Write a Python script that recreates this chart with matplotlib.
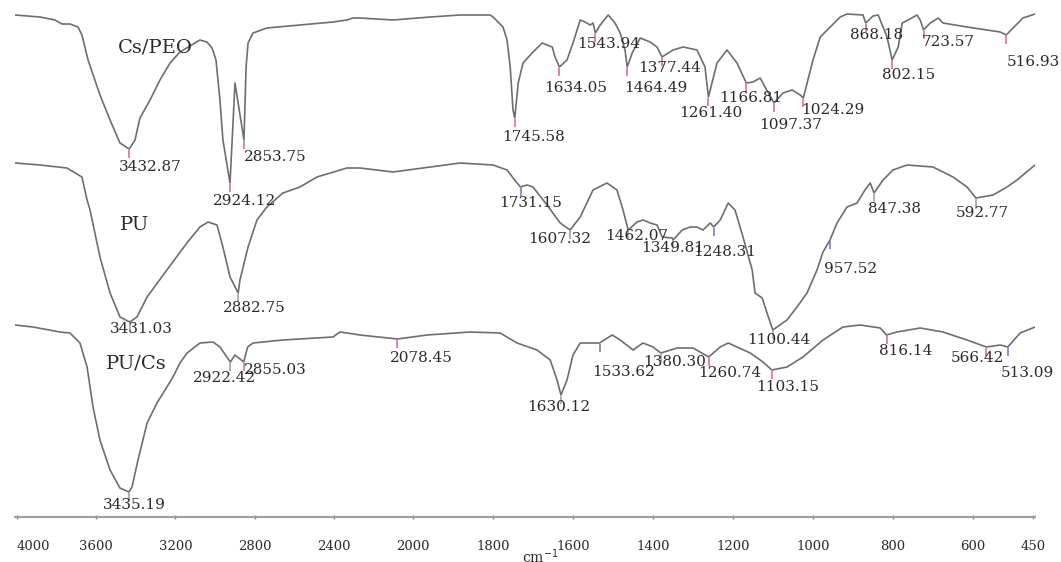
import numpy as np
import matplotlib.pyplot as plt

# wavenumber (cm-1) and offset transmittance (a.u.)
cspeo_wn = [4010, 3884, 3808, 3773, 3732, 3692, 3672, 3641, 3581, 3530,
            3480, 3432.87, 3404, 3379, 3328, 3278, 3227, 3177, 3076, 3041,
            3015, 2995, 2975, 2960, 2924.12, 2899, 2853.75, 2843, 2833, 2808,
            2738, 2571, 2404, 2334, 2303, 2268, 2101, 1957, 1882, 1807,
            1800, 1775, 1765, 1757, 1750, 1745.58, 1737, 1725, 1700, 1677,
            1652, 1645, 1634.05, 1615, 1600, 1582, 1570, 1557, 1550, 1543.94,
            1532, 1512, 1495, 1482, 1470, 1464.49, 1452, 1432, 1407, 1390,
            1377.44, 1350, 1325, 1290, 1270, 1261.40, 1240, 1215, 1190, 1166.81,
            1150, 1132, 1120, 1097.37, 1075, 1052, 1032, 1024.29, 1000, 982,
            957, 932, 915, 875, 868.18, 850, 837, 815, 802.15, 787,
            777, 762, 740, 732, 723.57, 707, 687, 675, 615, 532,
            516.93, 500, 475, 445]
cspeo_t = [502, 500, 497, 493, 493, 490, 482, 457, 422, 397,
           374, 368, 377, 399, 417, 437, 454, 465, 477, 475,
           469, 457, 417, 377, 334, 434, 377, 450, 474, 484,
           489, 492, 495, 497, 499, 499, 497, 500, 502, 502,
           500, 490, 477, 450, 407, 399, 434, 454, 465, 474,
           470, 460, 450, 457, 474, 497, 495, 492, 494, 484,
           492, 502, 494, 484, 467, 450, 464, 479, 475, 470,
           460, 467, 470, 467, 450, 420, 454, 467, 454, 434,
           435, 439, 430, 414, 424, 427, 422, 419, 457, 480,
           490, 500, 503, 502, 494, 501, 502, 480, 457, 470,
           494, 497, 502, 497, 487, 494, 499, 494, 490, 485,
           482, 489, 499, 503]

pu_wn = [4010, 3884, 3748, 3672, 3646, 3631, 3581, 3530, 3480, 3431.03,
         3394, 3343, 3243, 3142, 3076, 3035, 2990, 2960, 2924, 2882.75,
         2874, 2833, 2788, 2738, 2657, 2571, 2485, 2334, 2268, 2101,
         1882, 1800, 1765, 1740, 1731.15, 1715, 1700, 1665, 1632, 1607.32,
         1582, 1550, 1515, 1490, 1475, 1462.07, 1440, 1425, 1407, 1390,
         1377, 1352, 1349.81, 1327, 1307, 1290, 1275, 1257, 1248.31, 1232,
         1212, 1195, 1175, 1152, 1145, 1127, 1115, 1100.44, 1065, 1040,
         1015, 990, 975, 957.52, 940, 915, 890, 870, 857, 847.38,
         825, 800, 765, 700, 650, 615, 592.77, 550, 515, 490, 445]
pu_t = [354, 352, 349, 340, 317, 307, 260, 224, 200, 195,
        200, 220, 247, 274, 290, 295, 292, 270, 240, 224,
        237, 270, 297, 310, 324, 330, 340, 349, 349, 345,
        354, 352, 347, 334, 330, 332, 330, 312, 294, 287,
        300, 327, 334, 327, 307, 287, 295, 297, 294, 292,
        280, 279, 277, 287, 290, 290, 287, 294, 290, 297,
        314, 307, 280, 247, 224, 219, 204, 187, 197, 210,
        224, 247, 265, 277, 294, 310, 314, 327, 334, 324,
        337, 347, 352, 350, 340, 330, 319, 322, 330, 337, 352]

pucs_wn = [4010, 3919, 3783, 3732, 3682, 3646, 3616, 3581, 3530, 3480,
           3435.19, 3419, 3389, 3343, 3293, 3243, 3212, 3177, 3141, 3076,
           3010, 2975, 2922.42, 2899, 2855.03, 2835, 2808, 2657, 2404, 2369,
           2334, 2268, 2078.45, 1965, 1857, 1782, 1740, 1690, 1657, 1640,
           1630.12, 1615, 1600, 1582, 1565, 1533.62, 1502, 1482, 1450, 1425,
           1400, 1380.30, 1340, 1300, 1260.74, 1232, 1212, 1190, 1157, 1125,
           1103.15, 1065, 1025, 975, 925, 882, 832, 816.14, 790, 732,
           675, 615, 566.42, 532, 513.09, 482, 445]
pucs_t = [192, 190, 185, 184, 174, 150, 110, 77, 47, 29,
          25, 30, 57, 94, 114, 130, 140, 154, 164, 174,
          175, 170, 155, 162, 155, 170, 174, 177, 180, 185,
          184, 182, 178, 182, 185, 184, 174, 167, 157, 137,
          122, 137, 162, 174, 174, 174, 182, 177, 167, 174,
          170, 164, 169, 169, 160, 170, 174, 170, 164, 155,
          147, 150, 160, 177, 190, 192, 189, 182, 185, 189,
          185, 177, 170, 172, 170, 184, 190]

# labelled peaks
cspeo_peaks = [3432.87, 2924.12, 2853.75, 1745.58, 1634.05, 1543.94, 1464.49,
               1377.44, 1261.40, 1166.81, 1097.37, 1024.29, 868.18, 802.15,
               723.57, 516.93]
pu_peaks = [3431.03, 2882.75, 1731.15, 1607.32, 1462.07, 1349.81, 1248.31,
            1100.44, 957.52, 847.38, 592.77]
pucs_peaks = [3435.19, 2922.42, 2855.03, 2078.45, 1630.12, 1533.62, 1380.30,
              1260.74, 1103.15, 816.14, 566.42, 513.09]

ticks = [4000, 3600, 3200, 2800, 2400, 2000, 1800, 1600, 1400, 1200, 1000, 800, 600, 450]

# label offsets (pixels) and marker colours
cspeo_off = [(21, -18), (15, -18), (31, -17), (19, -19), (16, -21), (13, -11),
             (29, -21), (8, -11), (2, -16), (4, -15), (17, -22), (29, -12),
             (11, -12), (16, -15), (25, -12), (27, -27)]
pu_off = [(12, -7), (16, -15), (10, -16), (-10, -9), (9, -6), (0, -8),
          (11, -25), (6, -10), (21, -29), (20, -16), (6, -15)]
pucs_off = [(5, -13), (-6, -16), (32, -8), (24, -19), (-2, -12), (24, -29),
            (14, -9), (21, -16), (16, -17), (19, -16), (-9, -11), (20, -26)]
RED, BLUE, GREY = '#e0607a', '#6f6fc8', '#9a9a9a'
cspeo_col = [RED] * len(cspeo_peaks)
pu_col = [GREY, GREY, BLUE, GREY, GREY, GREY, BLUE, GREY, BLUE, GREY, GREY]
pucs_col = [GREY, GREY, RED, RED, GREY, BLUE, GREY, RED, RED, RED, RED, BLUE]


# the region below 2000 cm-1 is drawn about twice as wide as above
def fwd(w):
    w = np.asarray(w, float)
    return np.where(w >= 2000, (w - 2000) / 2.02, w - 2000)


def inv(p):
    p = np.asarray(p, float)
    return np.where(p >= 0, 2000 + p * 2.02, 2000 + p)


fig = plt.figure(figsize=(10.61, 5.62), dpi=100)
ax = fig.add_axes([15 / 1061, 45 / 562, 1020 / 1061, 517 / 562])
ax.set_xscale('function', functions=(fwd, inv))
ax.set_xlim(4010, 445)
ax.set_ylim(0, 517)

line_col = '#6e6e6e'
serif = 'DejaVu Serif'
spectra = [
    (cspeo_wn, cspeo_t, cspeo_peaks, cspeo_off, cspeo_col, 'Cs/PEO', 3303, 470),
    (pu_wn, pu_t, pu_peaks, pu_off, pu_col, 'PU', 3404, 292),
    (pucs_wn, pucs_t, pucs_peaks, pucs_off, pucs_col, 'PU/Cs', 3399, 154),
]
for wn, t, peaks, offs, cols, name, nx, ny in spectra:
    ax.plot(wn, t, color=line_col, lw=1.2)
    wn_r = np.array(wn)[::-1]
    t_r = np.array(t)[::-1]
    for p, (dx, dy), c in zip(peaks, offs, cols):
        v = np.interp(p, wn_r, t_r)
        ax.vlines(p, v - 9, v - 1, colors=c, lw=1.1)
        ax.annotate(f'{p:.2f}', xy=(p, v), xytext=(dx, dy), textcoords='offset pixels',
                    ha='center', va='center', fontsize=11, family=serif, color='#2a2a2a')
    ax.text(nx, ny, name, ha='center', va='center', fontsize=14, family=serif, color='#2a2a2a')

for s in ['top', 'left', 'right']:
    ax.spines[s].set_visible(False)
ax.spines['bottom'].set_color('#a0a0a0')
ax.spines['bottom'].set_linewidth(1.5)
ax.set_yticks([])
ax.set_xticks(ticks)
ax.set_xticklabels([str(t) for t in ticks])
ax.xaxis.set_minor_locator(plt.NullLocator())
ax.tick_params(axis='x', direction='inout', length=3, width=1, color='#808080',
               pad=15, labelsize=9.5, labelcolor='#2a2a2a')
for lab in ax.get_xticklabels():
    lab.set_family(serif)
ax.get_xticklabels()[0].set_ha('left')
ax.set_xlabel('cm$^{-1}$', family=serif, fontsize=10, color='#2a2a2a')
ax.xaxis.set_label_coords(0.515, -0.077)
ax.xaxis.label.set_va('center')

fig.savefig('out.png', dpi=100)
